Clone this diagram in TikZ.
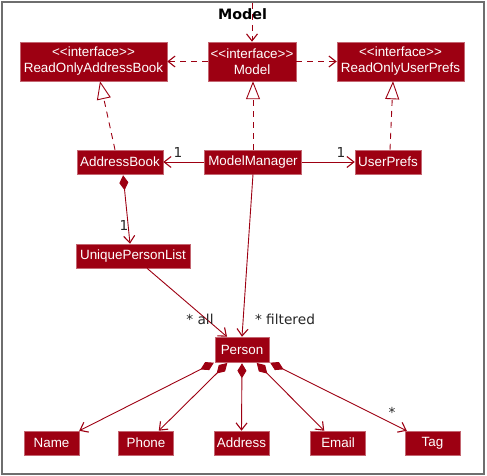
\documentclass[tikz,border=0pt]{standalone}
\usepackage{fontspec}
\setmainfont{Liberation Sans}
\newfontfamily\lblfont{DejaVu Sans}
\usetikzlibrary{arrows.meta,calc}
\definecolor{mc}{HTML}{9D0012}
\definecolor{frm}{HTML}{6E6E6E}
\begin{document}
\begin{tikzpicture}[x=1pt,y=-1pt,
  cls/.style={draw=mc!60!white, line width=0.5pt, fill=mc, text=white,
    font=\fontsize{13.4}{16}\selectfont, inner sep=0pt, minimum height=24pt, align=center},
  iface/.style={cls, minimum height=39pt},
  lbl/.style={font=\lblfont\fontsize{13.7}{16}\selectfont, text=black!85, inner sep=0pt},
  conn/.style={draw=mc, line width=0.9pt},
  dsh/.style={conn, dash pattern=on 6pt off 5pt},
  opn/.style={-{Straight Barb[length=7pt,width=11pt,line width=1.1pt]}},
  real/.style={-{Triangle[open,length=18pt,width=14pt,fill=white,line width=0.9pt]}},
  comp/.style={{Diamond[length=15pt,width=9pt]}-{Straight Barb[length=7pt,width=11pt,line width=1.1pt]}, shorten <=1pt}
]
\useasboundingbox (0,0) rectangle (487,476);
\draw[frm, line width=1.6pt] (2,2) rectangle (484,474);
\node[font=\lblfont\bfseries\fontsize{14.3}{16}\selectfont, inner sep=0pt] (title) at (242.5,14) {Model};
\coordinate (top) at (252,3);

\node[iface, minimum width=147pt] (roab) at (93.5,61.5) {<{}<interface>{}>\\ReadOnlyAddressBook};
\node[iface, minimum width=88pt] (model) at (252,61.5) {<{}<interface>{}>\\Model};
\node[iface, minimum width=127pt] (roup) at (400.5,61.5) {<{}<interface>{}>\\ReadOnlyUserPrefs};

\node[cls, minimum width=86pt] (ab) at (120,162) {AddressBook};
\node[cls, minimum width=97pt] (mm) at (253,162) {ModelManager};
\node[cls, minimum width=66pt] (up) at (388,162) {UserPrefs};
\node[cls, minimum width=114pt] (upl) at (133,256) {UniquePersonList};
\node[cls, minimum width=54pt, minimum height=25pt] (person) at (242,349.5) {Person};

\node[cls, minimum width=55pt] (name) at (51.5,443) {Name};
\node[cls, minimum width=55pt] (phone) at (146,443) {Phone};
\node[cls, minimum width=55pt] (address) at (241.5,443) {Address};
\node[cls, minimum width=55pt] (email) at (338,443) {Email};
\node[cls, minimum width=55pt] (tag) at (432.5,443) {Tag};

% top arrow into Model
\draw[dsh, opn] (top) -- (model.north);
% Model dependencies
\draw[dsh, opn] (model.west) -- (roab.east);
\draw[dsh, opn] (model.east) -- (roup.west);
% realizations
\draw[dsh, real] ([xshift=-5pt]ab.north) -- ([xshift=6.5pt]roab.south);
\draw[dsh, real] ([xshift=0pt]mm.north) -- ([xshift=1pt]model.south);
\draw[dsh, real] ([xshift=2pt]up.north) -- ([xshift=-7.5pt]roup.south);
% associations
\draw[conn, opn] (mm.west) -- (ab.east);
\draw[conn, opn] (mm.east) -- (up.west);
\draw[conn, comp] ([xshift=3pt]ab.south) -- ([xshift=-3pt]upl.north);
\draw[conn, opn] ([xshift=14pt]upl.south) -- ([xshift=-15pt]person.north);
\draw[conn, opn] (mm.south) -- (person.north);
% compositions from Person
\draw[conn, comp] (person.south west) -- (name.north east);
\draw[conn, comp] ([xshift=-14pt]person.south) -- ([xshift=-15pt]phone.north east);
\draw[conn, comp] (person.south) -- (address.north);
\draw[conn, comp] ([xshift=14pt]person.south) -- ([xshift=14pt]email.north west);
\draw[conn, comp] (person.south east) -- ([xshift=2pt]tag.north west);

% labels
\node[lbl] (l1) at (178,153) {1};
\node[lbl] (l2) at (341,153) {1};
\node[lbl] (l3) at (124,226) {1};
\node[lbl] (l4) at (200,319) {* all};
\node[lbl] (l5) at (285,319) {* filtered};
\node[lbl] (l6) at (392,412) {*};
\end{tikzpicture}
\end{document}
